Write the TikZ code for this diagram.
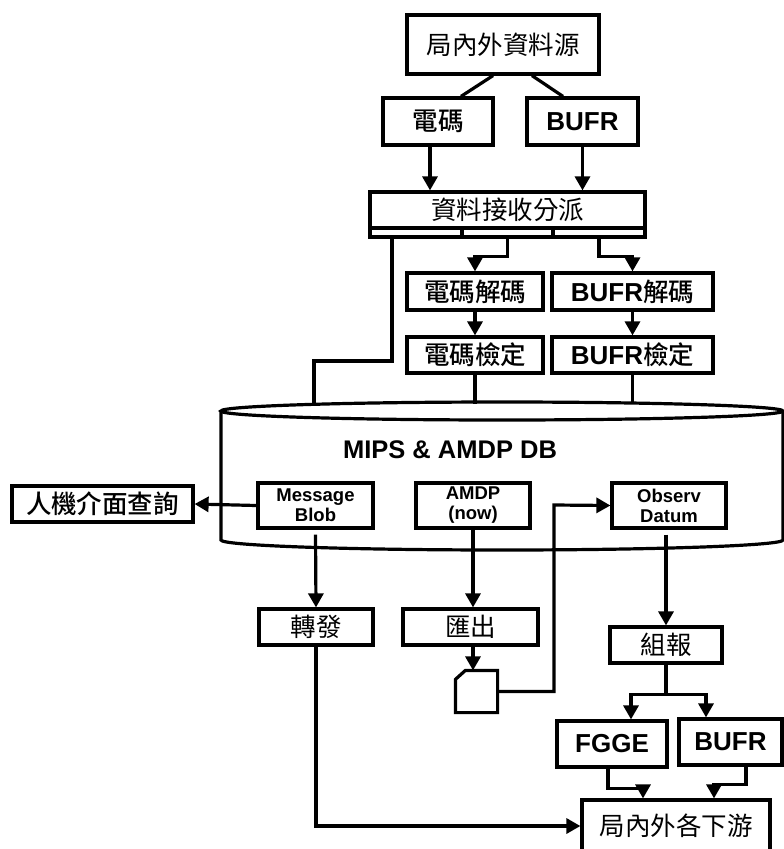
\documentclass[tikz,border=0pt]{standalone}
\usepackage{fontspec}
\setmainfont{Liberation Sans}
\newfontfamily\cjk{Noto Sans CJK TC}
\newfontfamily\cjkm{Noto Sans CJK TC Medium}
\usetikzlibrary{arrows.meta}
\begin{document}
\begin{tikzpicture}[x=1pt,y=-1pt,line width=3.2pt,
  box/.style={draw,fill=white,inner sep=0pt,anchor=center},
  zh/.style={font=\cjk\fontsize{25.5}{30}\selectfont},
  zhb/.style={font=\cjkm\fontsize{25.5}{30}\selectfont},
  en/.style={font=\bfseries\fontsize{26}{30}\selectfont},
  sm/.style={font=\bfseries\fontsize{18.5}{21}\selectfont,align=center},
  arr/.style={-{Triangle[length=14pt,width=15pt]}}]
\useasboundingbox[fill=white] (0,0) rectangle (784,849);

% database cylinder
\draw[fill=white] (221,411) -- (221,540) arc[start angle=180,end angle=360,x radius=281pt,y radius=10pt] -- (783,411);
\draw[fill=white] (502,411) ellipse[x radius=281pt,y radius=9pt];
\coordinate (dbtop) at (502,404);
\coordinate (dbleft) at (314,404);
\node[font=\bfseries\fontsize{25.5}{30}\selectfont] (dbtitle) at (450,450) {MIPS \& AMDP DB};

% boxes
\node[box,zh,minimum width=192pt,minimum height=59pt] (src) at (503,44.5) {局內外資料源};
\node[box,zhb,minimum width=110pt,minimum height=47pt] (dm) at (438,121.5) {電碼};
\node[box,en,minimum width=111pt,minimum height=47pt] (bufr1) at (582.5,121.5) {BUFR};
\node[box,zh,minimum width=275pt,minimum height=36pt] (recv) at (507.5,210) {資料接收分派};
\node[box,minimum width=92pt,minimum height=9pt] (s1) at (416,232.5) {};
\node[box,minimum width=91pt,minimum height=9pt] (s2) at (507.5,232.5) {};
\node[box,minimum width=92pt,minimum height=9pt] (s3) at (599,232.5) {};
\node[box,zhb,minimum width=136pt,minimum height=37pt] (dmdec) at (475,291.5) {電碼解碼};
\node[box,minimum width=161pt,minimum height=37pt] (bufrdec) at (632.5,291.5) {\bfseries\fontsize{26}{30}\selectfont BUFR{\mdseries\cjkm\fontsize{25.5}{30}\selectfont 解碼}};
\node[box,zhb,minimum width=136pt,minimum height=36pt] (dmchk) at (475,355) {電碼檢定};
\node[box,minimum width=161pt,minimum height=36pt] (bufrchk) at (632.5,355) {\bfseries\fontsize{26}{30}\selectfont BUFR{\mdseries\cjkm\fontsize{25.5}{30}\selectfont 檢定}};

\node[box,sm,minimum width=115pt,minimum height=45pt] (mb) at (315.5,505.5) {Message\\[-1pt]Blob};
\node[box,sm,minimum width=114pt,minimum height=45pt] (amdp) at (473,505.5) {AMDP\\[-1pt](now)};
\node[box,sm,minimum width=114pt,minimum height=45pt] (obs) at (669,505.5) {Observ\\[-1pt]Datum};
\node[box,zhb,minimum width=181pt,minimum height=36pt] (hmi) at (102.5,504) {人機介面查詢};

\node[box,zh,minimum width=114pt,minimum height=36pt] (fw) at (316,627) {轉發};
\node[box,zh,minimum width=135pt,minimum height=36pt] (exp) at (470.5,627) {匯出};
\node[minimum width=39pt,minimum height=39pt,inner sep=0pt] (doc) at (476.5,691.5) {};
\draw[fill=white] ([yshift=-9pt]doc.north west) -- ([xshift=10pt]doc.north west) -- (doc.north east) -- (doc.south east) -- (doc.south west) -- cycle;
\node[box,zh,minimum width=112pt,minimum height=36pt] (zb) at (666,645) {組報};
\node[box,en,minimum width=110pt,minimum height=46pt] (fgge) at (612,744) {FGGE};
\node[box,en,minimum width=103pt,minimum height=46pt] (bufr2) at (730.5,742) {BUFR};
\node[box,zh,minimum width=188pt,minimum height=52pt] (ds) at (676,826) {局內外各下游};

% connectors
\draw ([xshift=-10pt]src.south) -- ([xshift=23pt]dm.north);
\draw ([xshift=29pt]src.south) -- ([xshift=-19.5pt]bufr1.north);
\draw[arr] ([xshift=-8pt]dm.south) -- ([xshift=-8pt]dm.south |- recv.north);
\draw[arr] (bufr1.south) -- (bufr1.south |- recv.north);
\draw ([xshift=-24pt]s1.south) -- (392,361) -- (314,361) -- (dbleft);
\draw[arr] (s2.south) -- ++(0,18) -| (dmdec.north);
\draw[arr] (s3.south) -- ++(0,18) -| (bufrdec.north);
\draw[arr] (dmdec.south) -- (dmchk.north);
\draw[arr] (bufrdec.south) -- (bufrchk.north);
\draw (dmchk.south) -- (dmchk.south |- dbtop);
\draw (bufrchk.south) -- (bufrchk.south |- dbtop);

\draw[arr] (mb.west) -- (hmi.east);
\draw[arr] ([yshift=-5pt]mb.south) -- (fw.north);
\draw[arr] (amdp.south) -- (amdp.south |- exp.north);
\draw[arr] (amdp.south |- exp.south) -- (amdp.south |- doc.north);
\draw[arr] (doc.east) -| (554,505) -- (obs.west);
\draw[arr] ([xshift=-3pt,yshift=-5pt]obs.south) -- (zb.north);
\draw[arr] (zb.south) -- ++(0,30) -| ([xshift=19pt]fgge.north);
\draw[arr] (zb.south) -- ++(0,30) -| ([xshift=-24.5pt]bufr2.north);
\draw[arr] ([xshift=-4pt]fgge.south) -- ++(0,20) -| ([xshift=-33pt]ds.north);
\draw[arr] ([xshift=15.5pt]bufr2.south) -- ++(0,18) -| ([xshift=38pt]ds.north);
\draw[arr] (fw.south) |- (ds.west);
\end{tikzpicture}
\end{document}
